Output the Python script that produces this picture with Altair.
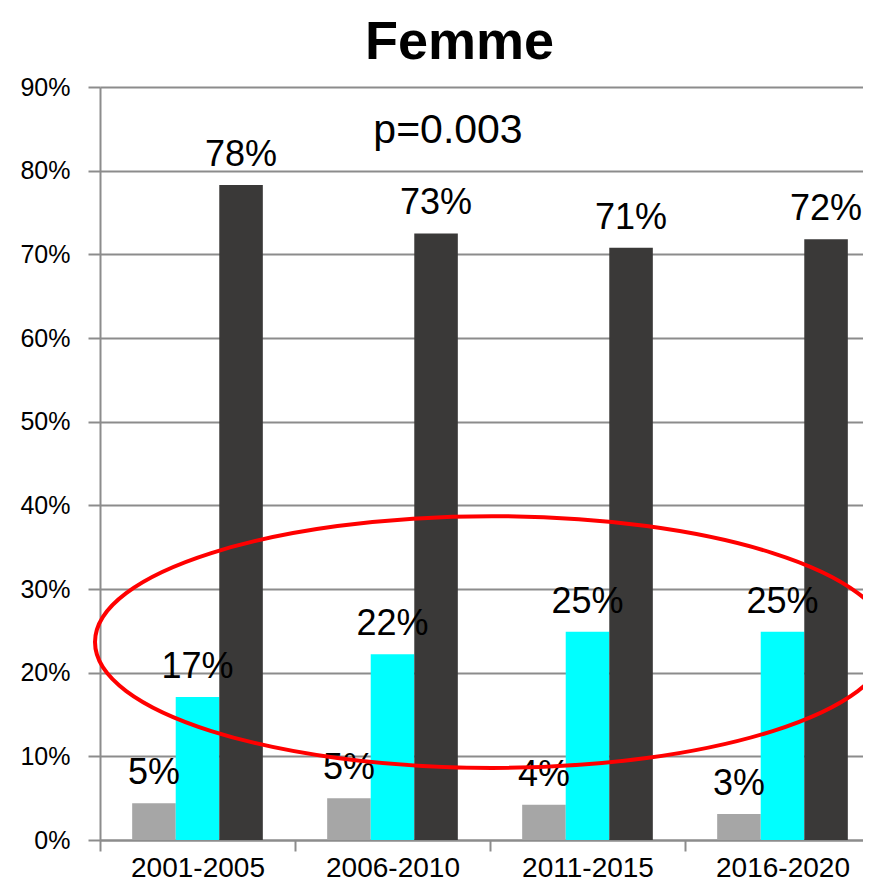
import altair as alt
import pandas as pd

periods = ["2001-2005", "2006-2010", "2011-2015", "2016-2020"]
series = ["A", "B", "C"]
colors = ["#A6A6A6", "#00FFFF", "#3A3938"]
vals_a = [0.044, 0.050, 0.042, 0.031]
vals_b = [0.171, 0.222, 0.249, 0.249]
vals_c = [0.783, 0.725, 0.708, 0.718]
labels_a = ["5%", "5%", "4%", "3%"]
labels_b = ["17%", "22%", "25%", "25%"]
labels_c = ["78%", "73%", "71%", "72%"]
p_text = "p=0.003"
title_text = "Femme"
y_ticks = [0, 0.1, 0.2, 0.3, 0.4, 0.5, 0.6, 0.7, 0.8, 0.9]

rows = []
for s, vals, labs in zip(series, [vals_a, vals_b, vals_c], [labels_a, labels_b, labels_c]):
    for p, v, l in zip(periods, vals, labs):
        rows.append({"period": p, "series": s, "value": v, "label": l})
df = pd.DataFrame(rows)

FONT = "Liberation Sans"
GRID = "#8C8C8C"
STEP = 195.0

xscale = alt.Scale(paddingInner=0.33, paddingOuter=0.165, range=[0, 4 * STEP])
xenc = alt.X(
    "period:N",
    sort=periods,
    scale=xscale,
    axis=alt.Axis(
        title=None,
        labelAngle=0,
        labelFontSize=28,
        labelFont=FONT,
        labelColor="black",
        labelPadding=3,
        tickSize=11,
        tickWidth=2,
        tickColor=GRID,
        domainColor=GRID,
        domainWidth=2,
        tickOffset=-STEP / 2,
        labelOffset=STEP / 2,
        grid=False,
    ),
)
yscale = alt.Scale(domain=[0, 0.9], nice=False)
yenc = alt.Y(
    "value:Q",
    scale=yscale,
    axis=alt.Axis(
        title=None,
        values=y_ticks,
        format=".0%",
        labelFontSize=25,
        labelFont=FONT,
        labelColor="black",
        labelPadding=18,
        tickSize=12,
        tickWidth=2,
        tickColor=GRID,
        domainColor=GRID,
        domainWidth=2,
        gridColor=GRID,
        gridWidth=2,
    ),
)
xoff = alt.XOffset("series:N", sort=series, scale=alt.Scale(paddingInner=0, paddingOuter=0))

base = alt.Chart(df)
bars = base.mark_bar().encode(
    x=xenc,
    y=yenc,
    xOffset=xoff,
    color=alt.Color("series:N", scale=alt.Scale(domain=series, range=colors), legend=None),
)
texts = base.mark_text(
    baseline="alphabetic", align="center", dy=-19, fontSize=36, font=FONT, color="black"
).encode(
    x=alt.X("period:N", sort=periods, scale=xscale),
    y=alt.Y("value:Q", scale=yscale),
    xOffset=xoff,
    text="label:N",
)

ptxt = alt.Chart(pd.DataFrame({"t": [p_text]})).mark_text(
    fontSize=41, font=FONT, color="black", baseline="middle", align="center"
).encode(x=alt.value(348), y=alt.datum(0.847), text="t:N")

ellipse = alt.Chart(pd.DataFrame({"e": [1]})).mark_point(
    shape="M-1,0 A1,0.317 0 1,0 1,0 A1,0.317 0 1,0 -1,0 Z",
    filled=False,
    stroke="#FF0000",
    strokeWidth=4,
    opacity=1,
).encode(x=alt.value(392), y=alt.datum(0.2366), size=alt.value(630436))

chart = alt.layer(bars, texts, ellipse, ptxt).properties(
    width=763,
    height=753,
    autosize=alt.AutoSizeParams(type="none"),
    padding={"left": 92, "top": 79, "right": 0, "bottom": 44},
    title=alt.TitleParams(
        title_text,
        fontSize=54,
        fontWeight="bold",
        font=FONT,
        color="black",
        anchor="middle",
        dx=-22,
        offset=5,
    ),
).configure_view(stroke=None)

chart.save("out.html", embed_options={"renderer": "svg", "actions": False})
